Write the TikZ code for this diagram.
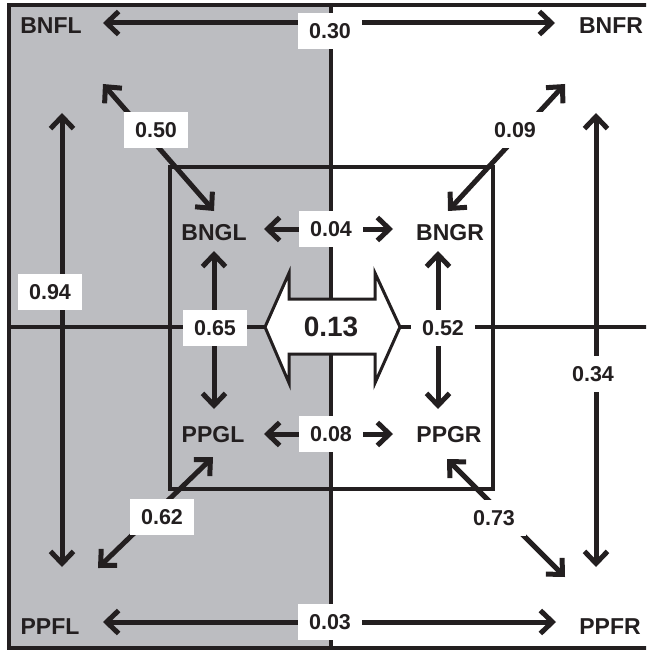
\documentclass[tikz,border=0pt]{standalone}
\usepackage{fontspec}
\setmainfont{Liberation Sans}
\usetikzlibrary{arrows.meta}
\definecolor{panelgrey}{RGB}{188,189,193}
\definecolor{ink}{RGB}{35,31,32}
\begin{document}
\begin{tikzpicture}[x=1pt,y=-1pt,
  frameline/.style={draw=ink,line width=3.2pt},
  flow/.style={draw=ink,line width=5pt,
    arrows={Straight Barb[length=12pt,width=23pt]-Straight Barb[length=12pt,width=23pt]}},
  site/.style={text=ink,inner sep=0pt,font=\fontsize{23}{23}\selectfont\bfseries},
  rate/.style={fill=white,text=ink,inner xsep=11pt,inner ysep=10pt,
    text height=15.5pt,text depth=0pt,font=\fontsize{21.5}{21.5}\selectfont\bfseries},
  bigrate/.style={text=ink,inner sep=0pt,font=\fontsize{28}{28}\selectfont\bfseries}]
\clip (0,0) rectangle (646,650);

% shaded left half and panel lines
\fill[panelgrey] (9,5) rectangle (331,648);
\draw[frameline] (660,5) -- (9,5) -- (9,648) -- (660,648);
\draw[frameline] (331,5) -- (331,648);
\draw[frameline] (9,327) -- (660,327);
\draw[frameline] (170,167) rectangle (493,489);

% site labels
\node[site] (BNFL) at (51,26) {BNFL};
\node[site] (BNFR) at (611,26) {BNFR};
\node[site] (PPFL) at (50,627) {PPFL};
\node[site] (PPFR) at (610,627) {PPFR};
\node[site] (BNGL) at (214,233) {BNGL};
\node[site] (BNGR) at (450,233) {BNGR};
\node[site] (PPGL) at (213,435) {PPGL};
\node[site] (PPGR) at (449,435) {PPGR};

% arrow end points
\coordinate (fTopL) at (103,23);  \coordinate (fTopR) at (555,23);
\coordinate (fBotL) at (103,622); \coordinate (fBotR) at (556,622);
\coordinate (fLeftT) at (62,113); \coordinate (fLeftB) at (62,567);
\coordinate (fRightT) at (596,113); \coordinate (fRightB) at (596,567);
\coordinate (dNL) at (103,84);  \coordinate (dGNL) at (214,211);
\coordinate (dNR) at (565,84);  \coordinate (dGNR) at (448,211);
\coordinate (dPL) at (98,568);  \coordinate (dGPL) at (213,457);
\coordinate (dPR) at (565,577); \coordinate (dGPR) at (447,459);
\coordinate (gLT) at (214,251); \coordinate (gLB) at (214,409);
\coordinate (gRT) at (438,251); \coordinate (gRB) at (438,409);
\coordinate (gNL) at (264,229); \coordinate (gNR) at (393,229);
\coordinate (gPL) at (264,434); \coordinate (gPR) at (393,434);

% exchange arrows
\draw[flow] (fTopL) -- (fTopR);
\draw[flow] (fBotL) -- (fBotR);
\draw[flow] (fLeftT) -- (fLeftB);
\draw[flow] (fRightT) -- (fRightB);
\draw[flow] (dNL) -- (dGNL);
\draw[flow] (dNR) -- (dGNR);
\draw[flow] (dPL) -- (dGPL);
\draw[flow] (dPR) -- (dGPR);
\draw[flow] (gLT) -- (gLB);
\draw[flow] (gRT) -- (gRB);
\draw[flow] (gNL) -- (gNR);
\draw[flow] (gPL) -- (gPR);

% rates
\node[rate] (r030) at (330,31) {0.30};
\node[rate] (r003) at (330,622) {0.03};
\node[rate] (r094) at (50,292) {0.94};
\node[rate] (r034) at (593,374) {0.34};
\node[rate] (r050) at (156,130) {0.50};
\node[rate] (r009) at (515,130) {0.09};
\node[rate] (r062) at (162,517) {0.62};
\node[rate] (r073) at (494,518) {0.73};
\node[rate] (r065) at (215,328) {0.65};
\node[rate] (r052) at (443,328) {0.52};
\node[rate] (r004) at (331,229) {0.04};
\node[rate] (r008) at (331,434) {0.08};

% central two-way arrow
\filldraw[fill=white,draw=ink,line width=3pt,line join=miter]
  (265,327) -- (289,273) -- (289,299) -- (375,299) -- (375,273) -- (400,327)
  -- (375,383) -- (375,354) -- (289,354) -- (289,383) -- cycle;
\node[bigrate] (r013) at (331,327) {0.13};
\end{tikzpicture}
\end{document}
